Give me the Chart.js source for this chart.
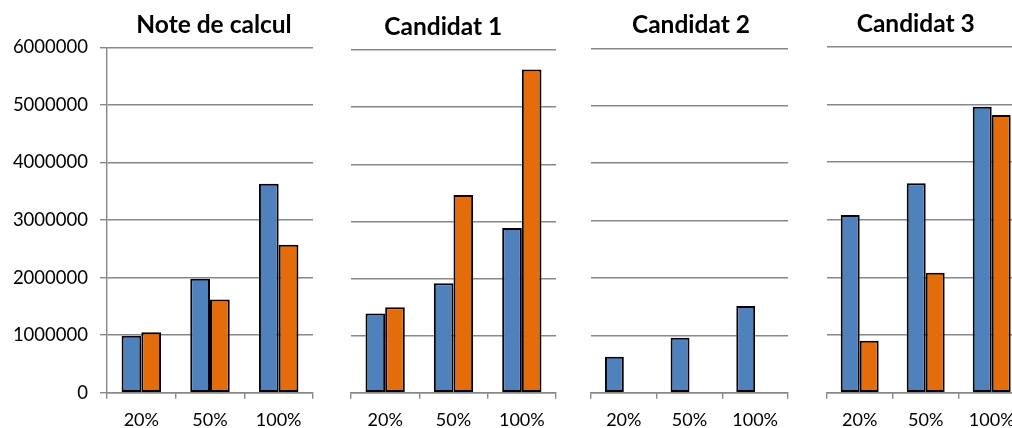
<!DOCTYPE html>
<html>
<head>
<meta charset="utf-8">
<script src="https://cdn.jsdelivr.net/npm/chart.js@4.4.1/dist/chart.umd.min.js"></script>
<style>
  html, body { margin: 0; padding: 0; background: #fff; width: 1012px; height: 428px; overflow: hidden; }
  .panel { position: absolute; top: 0; height: 428px; }
  .title { position: absolute; width: 300px; text-align: center; font: bold 24.5px Lato, sans-serif; line-height: 29.4px; color: #000; white-space: nowrap; }
</style>
</head>
<body>
<script>
// ---- data ----
const categories = ['20%', '50%', '100%'];
const panelTitles = ['Note de calcul', 'Candidat 1', 'Candidat 2', 'Candidat 3'];
const noteBlue   = [990000, 1980000, 3630000];
const noteOrange = [1050000, 1620000, 2570000];
const c1Blue     = [1385000, 1915000, 2885000];
const c1Orange   = [1495000, 3460000, 5660000];
const c2Blue     = [627000, 958000, 1510000];
const c2Orange   = [null, null, null];
const c3Blue     = [3080000, 3630000, 4960000];
const c3Orange   = [900000, 2080000, 4815000];
const yMin = 0, yMax = 6000000, yStep = 1000000;

const blueColor = '#4F81BD';
const orangeColor = '#E46C0A';
const gridColor = '#888888';

const panelData = [
  [noteBlue, noteOrange],
  [c1Blue, c1Orange],
  [c2Blue, c2Orange],
  [c3Blue, c3Orange]
];

// layout per panel: canvas left/width, plot left/right/top, title center x & top
const layoutSpec = [
  { left: 0,   width: 330, plotL: 107,   plotR: 313,    top: 47.3, tx: 214,   ty: 9.1,  yAxis: true },
  { left: 330, width: 240, plotL: 351,   plotR: 556,    top: 50,   tx: 443.3, ty: 10.8, yAxis: false },
  { left: 570, width: 230, plotL: 591,   plotR: 788,    top: 48.3, tx: 691,   ty: 9.1,  yAxis: false },
  { left: 800, width: 240, plotL: 826.7, plotR: 1024.7, top: 46.7, tx: 915.7, ty: 7.5,  yAxis: false }
];
const xAxisH = 35.3;

layoutSpec.forEach((L, i) => {
  const div = document.createElement('div');
  div.className = 'panel';
  div.style.left = L.left + 'px';
  div.style.width = L.width + 'px';
  const cv = document.createElement('canvas');
  div.appendChild(cv);
  document.body.appendChild(div);

  const t = document.createElement('div');
  t.className = 'title';
  t.textContent = panelTitles[i];
  t.style.left = (L.tx - 150) + 'px';
  t.style.top = L.ty + 'px';
  document.body.appendChild(t);

  const yAxisW = L.yAxis ? (L.plotL - L.left) : 0;
  const padLeft = L.yAxis ? 0 : (L.plotL - L.left);
  const padRight = L.left + L.width - L.plotR;

  new Chart(cv, {
    type: 'bar',
    data: {
      labels: categories,
      datasets: [
        { data: panelData[i][0], backgroundColor: blueColor, borderColor: '#000', borderWidth: 2, borderSkipped: false },
        { data: panelData[i][1], backgroundColor: orangeColor, borderColor: '#000', borderWidth: 2, borderSkipped: false }
      ]
    },
    options: {
      responsive: true,
      maintainAspectRatio: false,
      animation: false,
      layout: { padding: { left: padLeft, right: padRight, top: L.top, bottom: 0 } },
      plugins: { legend: { display: false }, title: { display: false }, tooltip: { enabled: false } },
      datasets: { bar: { categoryPercentage: 0.575, barPercentage: 1 } },
      scales: {
        x: {
          grid: { display: true, drawOnChartArea: false, drawTicks: true, tickLength: 6, color: gridColor, lineWidth: 1.4, offset: true },
          border: { display: true, color: gridColor, width: 1.4 },
          ticks: { color: '#000', font: { family: 'Lato', size: 18 }, padding: 11, maxRotation: 0 },
          afterFit: s => { s.height = xAxisH; }
        },
        y: {
          min: yMin, max: yMax,
          grid: { color: gridColor, lineWidth: 1.4, drawTicks: L.yAxis, tickLength: 7 },
          border: { display: L.yAxis, color: gridColor, width: 1.4 },
          ticks: {
            display: L.yAxis, stepSize: yStep, color: '#000', padding: 12,
            font: { family: 'Lato', size: 18.5 },
            callback: v => String(v)
          },
          afterFit: s => { s.width = yAxisW; }
        }
      }
    }
  });
});
</script>
</body>
</html>
